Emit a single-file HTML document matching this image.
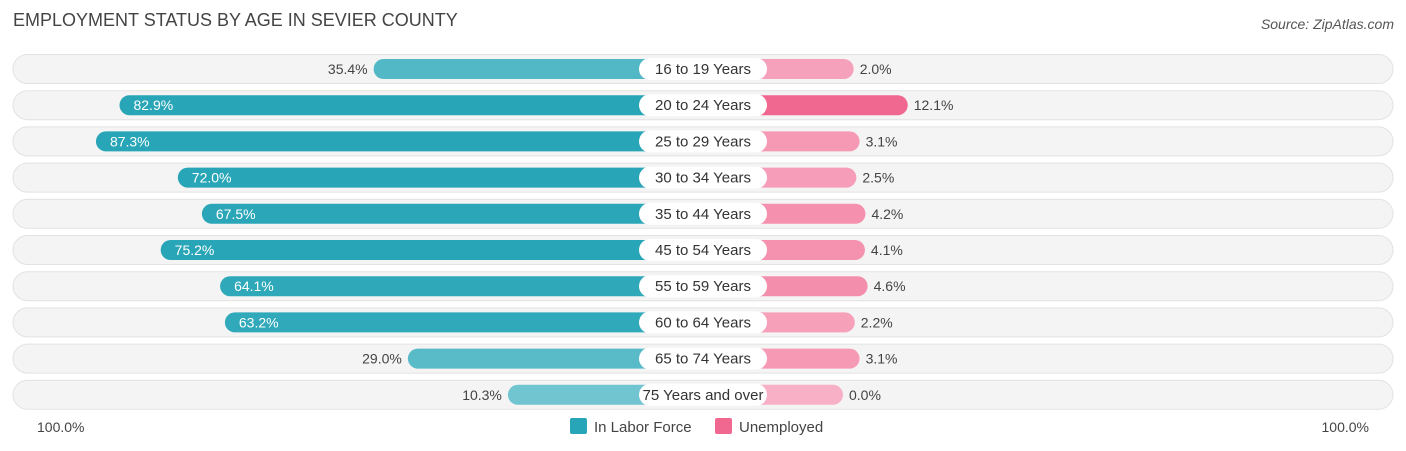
<!DOCTYPE html>
<html><head><meta charset="utf-8"><style>
body{margin:0;width:1406px;height:451px;background:#fff;font-family:"Liberation Sans",sans-serif;overflow:hidden;position:relative}
.t{position:absolute;white-space:nowrap}
</style></head><body>
<div class="t" style="left:13px;top:10px;font-size:18px;color:#444">EMPLOYMENT STATUS BY AGE IN SEVIER COUNTY</div>
<div class="t" style="right:12px;top:16px;font-size:14px;color:#555;font-style:italic">Source: ZipAtlas.com</div>
<svg id="c" width="1406" height="451" style="position:absolute;left:0;top:0"></svg>
<script>
const categories=["16 to 19 Years","20 to 24 Years","25 to 29 Years","30 to 34 Years","35 to 44 Years","45 to 54 Years","55 to 59 Years","60 to 64 Years","65 to 74 Years","75 Years and over"];
const laborForce=[35.4,82.9,87.3,72.0,67.5,75.2,64.1,63.2,29.0,10.3];
const unemployed=[2.0,12.1,3.1,2.5,4.2,4.1,4.6,2.2,3.1,0.0];
const axisLabels=["100.0%","100.0%"];
const svg=document.getElementById('c');
const NS="http://www.w3.org/2000/svg";
const cx=703,off=140,k=5.35,y0=69,dy=36.2;
function lenOf(v){return off+k*v;}
function rowY(i){return y0+i*dy;}
function mk(tag,attrs){const e=document.createElementNS(NS,tag);for(const a in attrs)e.setAttribute(a,attrs[a]);svg.appendChild(e);return e;}
function mix(a,b,t){const p=x=>[1,3,5].map(j=>parseInt(x.substr(j,2),16));const A=p(a),B=p(b);return 'rgb('+A.map((v,j)=>Math.round(v+(B[j]-v)*t)).join(',')+')';}
categories.forEach((cat,i)=>{
  const y=rowY(i);
  const bg=mk('rect',{x:13,y:y-14.5,width:1380,height:29,rx:14.5,fill:'#f4f4f4',stroke:'#e2e2e2','stroke-width':1});
  
  
  const lv=laborForce[i],ll=lenOf(lv);
  const lb=mk('rect',{x:cx-ll,y:y-10,width:ll,height:20,rx:10,fill:mix('#7ccbd4','#28a5b7',Math.min(1,lv/70))});
  
  
  const uv=unemployed[i],ul=lenOf(uv);
  const ub=mk('rect',{x:cx,y:y-10,width:ul,height:20,rx:10,fill:mix('#f8b0c6','#f06790',Math.min(1,uv/10))});
  
  
  const pill=mk('rect',{x:cx-64,y:y-11,width:128,height:22,rx:11,fill:'#fff'});
  
  
  const ct=mk('text',{x:cx,y:y+5,'text-anchor':'middle','font-size':15,fill:'#333'});ct.textContent=cat;
  
  
  const inside=lv>50;
  const lt=mk('text',{x:inside?cx-ll+14:cx-ll-6,y:y+5,'text-anchor':inside?'start':'end','font-size':14,fill:inside?'#fff':'#444'});lt.textContent=lv.toFixed(1)+'%';
  
  
  const ut=mk('text',{x:cx+ul+6,y:y+5,'text-anchor':'start','font-size':14,fill:'#444'});ut.textContent=uv.toFixed(1)+'%';
  
  
});
const a1=mk('text',{x:37,y:432,'font-size':14,fill:'#444'});a1.textContent=axisLabels[0];


const a2=mk('text',{x:1369,y:432,'text-anchor':'end','font-size':14,fill:'#444'});a2.textContent=axisLabels[1];


const s1=mk('rect',{x:570,y:418,width:17,height:16,rx:2,fill:'#28a5b7'});


const l1=mk('text',{x:594,y:432,'font-size':15,fill:'#444'});l1.textContent='In Labor Force';


const s2=mk('rect',{x:715,y:418,width:17,height:16,rx:2,fill:'#f06790'});


const l2=mk('text',{x:739,y:432,'font-size':15,fill:'#444'});l2.textContent='Unemployed';


</script>
</body></html>
